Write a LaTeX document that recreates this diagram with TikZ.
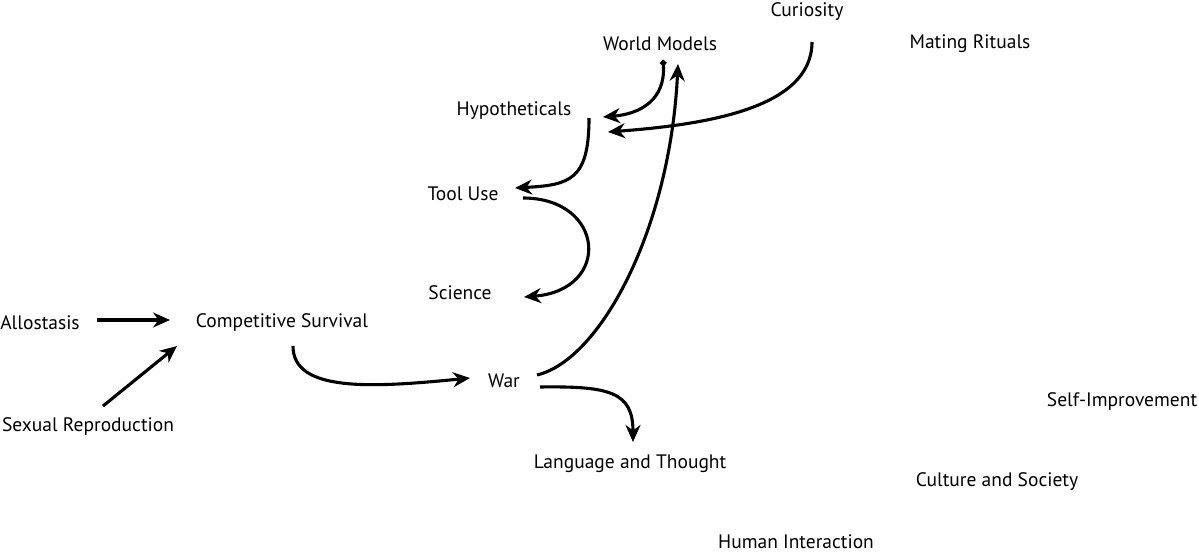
\documentclass[tikz,border=0pt]{standalone}
\usepackage{fontspec}
\setmainfont{PT Sans}
\usetikzlibrary{arrows.meta,calc}
\begin{document}
\begin{tikzpicture}[x=1pt,y=-1pt,
  lbl/.style={inner sep=0pt,font=\fontsize{19.5}{22}\selectfont},
  tip/.tip={Stealth[length=17pt,width=15pt,inset=5.5pt]},
  conn/.style={line width=3.1pt,-tip}]
\useasboundingbox[fill=white] (0,0) rectangle (1199,553);
\node[lbl] (cur) at (807,12) {Curiosity};
\node[lbl] (wm) at (660,44) {World Models};
\node[lbl] (mate) at (970,44) {Mating Rituals};
\node[lbl] (hyp) at (514,111) {Hypotheticals};
\node[lbl] (tool) at (463,194) {Tool Use};
\node[lbl] (sci) at (460,293) {Science};
\node[lbl] (allo) at (40,323) {Allostasis};
\node[lbl] (cs) at (282,323) {Competitive Survival};
\node[lbl] (war) at (504,381) {War};
\node[lbl] (self) at (1122,402) {Self-Improvement};
\node[lbl] (sex) at (88,427) {Sexual Reproduction};
\node[lbl] (lang) at (630,464) {Language and Thought};
\node[lbl] (cult) at (997,482) {Culture and Society};
\node[lbl] (human) at (796,542) {Human Interaction};

\draw[conn] ($(allo)+(57,-3)$) -- ($(cs)+(-112,-3)$);
\draw[conn] ($(sex)+(15,-21)$) -- ($(cs)+(-105,23)$);
\draw[conn] ($(cs)+(11,23)$) .. controls (293,392) and (370,388) .. ($(war)+(-34,-3)$);
\draw[conn] ($(war)+(33,-6)$) .. controls (600,360) and (670,230) .. ($(wm)+(18,20)$);
\draw[conn] ($(war)+(36,6)$) .. controls (610,386) and (633,392) .. ($(lang)+(3,-22)$);
\draw[conn,{Circle[length=6pt]}-tip] ($(wm)+(3,16)$) .. controls (666,100) and (640,114) .. ($(hyp)+(89,6)$);
\draw[conn] ($(cur)+(5,30)$) .. controls (812,110) and (700,125) .. ($(hyp)+(94,21)$);
\draw[conn] ($(hyp)+(75,7)$) .. controls (589,180) and (570,185) .. ($(tool)+(52,-6)$);
\draw[conn] ($(tool)+(60,4)$) .. controls (605,198) and (612,290) .. ($(sci)+(64,4)$);
\end{tikzpicture}
\end{document}
